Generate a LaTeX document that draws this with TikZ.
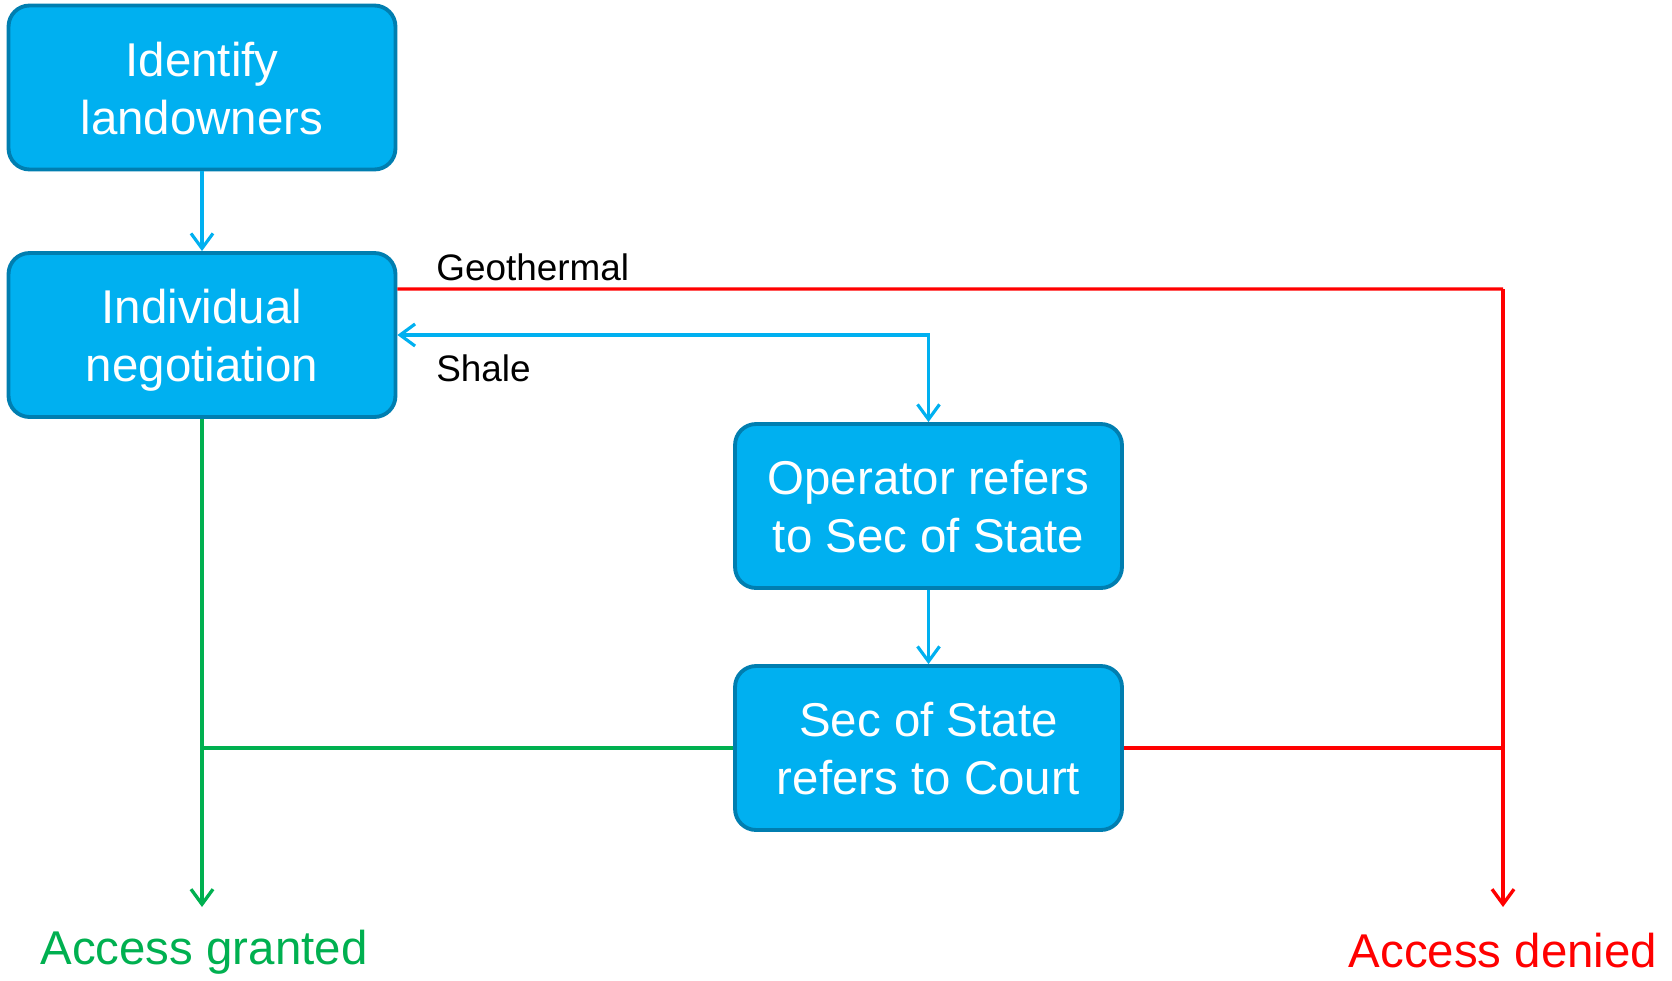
\documentclass[tikz,border=0pt]{standalone}
\usepackage{fontspec}
\setmainfont{Liberation Sans}
\usetikzlibrary{arrows.meta,calc}
\definecolor{boxfill}{RGB}{0,176,240}
\definecolor{boxline}{RGB}{0,126,176}
\definecolor{okgreen}{RGB}{0,176,80}
\definecolor{nored}{RGB}{255,0,0}
% two centred lines, set a little low in their box
\newcommand{\boxlines}[1]{\raisebox{-3.5pt}[\height][\depth]{\begin{tabular}{@{}c@{}}#1\end{tabular}}}
\tikzset{
  stepbox/.style={draw=boxline, line width=2.2pt, fill=boxfill, rounded corners=0.42cm,
    minimum width=7.74cm, minimum height=3.28cm, text=white,
    font=\fontsize{27}{33}\selectfont, inner sep=0pt},
  barb/.tip={Straight Barb[length=0.3cm,width=0.44cm]},
  blueflow/.style={draw=boxfill, line width=1.8pt, -barb},
  redflow/.style={draw=nored, line width=1.9pt},
  greenflow/.style={draw=okgreen, line width=1.9pt},
  outcome/.style={font=\fontsize{27}{33}\selectfont, inner sep=0pt},
  branchlabel/.style={font=\fontsize{21}{25}\selectfont, inner sep=0pt, anchor=west}
}
\begin{document}
\begin{tikzpicture}[x=0.02cm, y=-0.02cm]
  \useasboundingbox (0,0) rectangle (1672,980);

  % process boxes
  \node[stepbox] (ident) at (202,87.5) {\boxlines{Identify\\landowners}};
  \node[stepbox] (negot) at (202,335) {\boxlines{Individual\\negotiation}};
  \node[stepbox] (oper)  at (928.5,506) {\boxlines{Operator refers\\to Sec of State}};
  \node[stepbox] (court) at (928.5,748) {\boxlines{Sec of State\\refers to Court}};

  % outcomes
  \node[outcome, text=okgreen] (granted) at (204,952) {Access granted};
  \node[outcome, text=nored]   (denied)  at (1503,951) {Access denied};
  \coordinate (grantTip) at (202,907);
  \coordinate (denyTip)  at (1503,907);
  \coordinate (denyCorner) at (1503,289);

  % branch labels
  \node[branchlabel] (geo)   at (436,267) {Geothermal};
  \node[branchlabel] (shale) at (436,368) {Shale};

  % connectors
  \draw[blueflow] (ident.south) -- (negot.north);
  \draw[blueflow, barb-barb] (negot.east) -| (oper.north);
  \draw[blueflow] (oper.south) -- (court.north);

  \draw[redflow] ([yshift=0.92cm]negot.east) -- (denyCorner);
  \draw[redflow, -barb] (denyCorner) -- (denyTip);
  \draw[redflow] (court.east) -- (court.east -| denyTip);

  \draw[greenflow, -barb] (negot.south) -- (grantTip);
  \draw[greenflow] (court.west) -- (court.west -| grantTip);
\end{tikzpicture}
\end{document}
